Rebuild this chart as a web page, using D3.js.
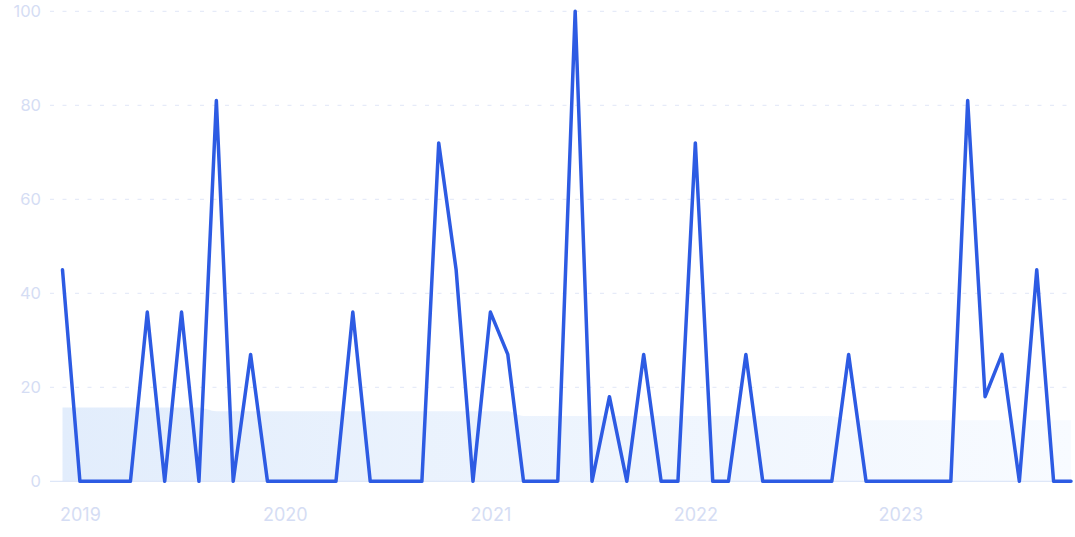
<!DOCTYPE html>
<html>
<head>
<meta charset="utf-8">
<script src="https://cdn.jsdelivr.net/npm/d3@7"></script>
<style>
  html, body { margin: 0; padding: 0; background: #ffffff; }
  svg { display: block; font-family: Inter, "Noto Sans", sans-serif; }
</style>
</head>
<body>
<svg id="chart" width="1075" height="537"></svg>
<script>
// ---- Data (monthly, Dec 2018 – Nov 2023) ----
const startMonth = "2018-12";
const values = [
  45, 0, 0, 0, 0, 36, 0, 36, 0, 81, 0, 27,
  0, 0, 0, 0, 0, 36, 0, 0, 0, 0, 72, 45,
  0, 36, 27, 0, 0, 0, 100, 0, 18, 0, 27, 0,
  0, 72, 0, 0, 27, 0, 0, 0, 0, 0, 27, 0,
  0, 0, 0, 0, 0, 81, 18, 27, 0, 45, 0, 0
];
const averageValues = [
  15.7, 15.7, 15.7, 15.7, 15.7, 15.7, 15.7, 15.7, 15.7, 14.9, 14.9, 14.9,
  14.9, 14.9, 14.9, 14.9, 14.9, 14.9, 14.9, 14.9, 14.9, 14.9, 14.9, 14.9,
  14.9, 14.9, 14.9, 13.9, 13.9, 13.9, 13.9, 13.9, 13.9, 13.9, 13.9, 13.9,
  13.9, 13.9, 13.9, 13.9, 13.9, 13.9, 13.9, 13.9, 13.9, 13.9, 13.0, 13.0,
  13.0, 13.0, 13.0, 13.0, 13.0, 13.0, 13.0, 13.0, 13.0, 13.0, 13.0, 13.0
];
const yTicks = [0, 20, 40, 60, 80, 100];
const xTickYears = [2019, 2020, 2021, 2022, 2023];

// ---- Build dates ----
const parseMonth = d3.timeParse("%Y-%m");
const start = parseMonth(startMonth);
const dates = values.map((_, i) => d3.timeMonth.offset(start, i));
const rows = dates.map((d, i) => ({ date: d, value: values[i], avg: averageValues[i] }));

// ---- Layout ----
const svg = d3.select("#chart");
const x = d3.scaleTime()
  .domain([dates[0], dates[dates.length - 1]])
  .range([62.5, 1071]);
const y = d3.scaleLinear().domain([0, 100]).range([481.3, 11.3]);
const gridLeft = 50, gridRight = 1071;

// gradient for area
const defs = svg.append("defs");
const grad = defs.append("linearGradient")
  .attr("id", "areaGrad")
  .attr("x1", "0%").attr("x2", "100%").attr("y1", "0%").attr("y2", "0%");
grad.append("stop").attr("offset", "0%").attr("stop-color", "#e2edfc");
grad.append("stop").attr("offset", "100%").attr("stop-color", "#f8fbff");

// grid lines
svg.append("g")
  .selectAll("line")
  .data(yTicks.filter(t => t > 0))
  .join("line")
  .attr("x1", gridLeft).attr("x2", gridRight)
  .attr("y1", d => y(d)).attr("y2", d => y(d))
  .attr("stroke", "#e0e7f7")
  .attr("stroke-width", 1)
  .attr("stroke-dasharray", "4,8.5");

// area (average)
const area = d3.area()
  .x(d => x(d.date))
  .y0(y(0))
  .y1(d => y(d.avg))
  .curve(d3.curveMonotoneX);
svg.append("path")
  .datum(rows)
  .attr("d", area)
  .attr("fill", "url(#areaGrad)");

// baseline
svg.append("line")
  .attr("x1", gridLeft).attr("x2", gridRight)
  .attr("y1", y(0)).attr("y2", y(0))
  .attr("stroke", "#d6e2f7")
  .attr("stroke-width", 1);

// y axis labels
const yAxis = d3.axisLeft(y).tickValues(yTicks).tickSize(0).tickPadding(0);
const yg = svg.append("g").attr("transform", "translate(41,0)").call(yAxis);
yg.select(".domain").remove();
yg.selectAll("text")
  .attr("fill", "#d5ddf4")
  .attr("font-size", 16.5)
  .attr("font-family", "Inter, 'Noto Sans', sans-serif");

// x axis labels
const xAxis = d3.axisBottom(x)
  .tickValues(xTickYears.map(yr => new Date(yr, 0, 1)))
  .tickFormat(d3.timeFormat("%Y"))
  .tickSize(0).tickPadding(0);
const xg = svg.append("g").attr("transform", "translate(0,508.5)").call(xAxis);
xg.select(".domain").remove();
xg.selectAll("text")
  .attr("fill", "#d5ddf4")
  .attr("font-size", 18)
  .attr("font-family", "Inter, 'Noto Sans', sans-serif");

// line
const line = d3.line()
  .x(d => x(d.date))
  .y(d => y(d.value));
svg.append("path")
  .datum(rows)
  .attr("d", line)
  .attr("fill", "none")
  .attr("stroke", "#2d5be3")
  .attr("stroke-width", 3.5)
  .attr("stroke-linejoin", "round")
  .attr("stroke-linecap", "round");
</script>
</body>
</html>
